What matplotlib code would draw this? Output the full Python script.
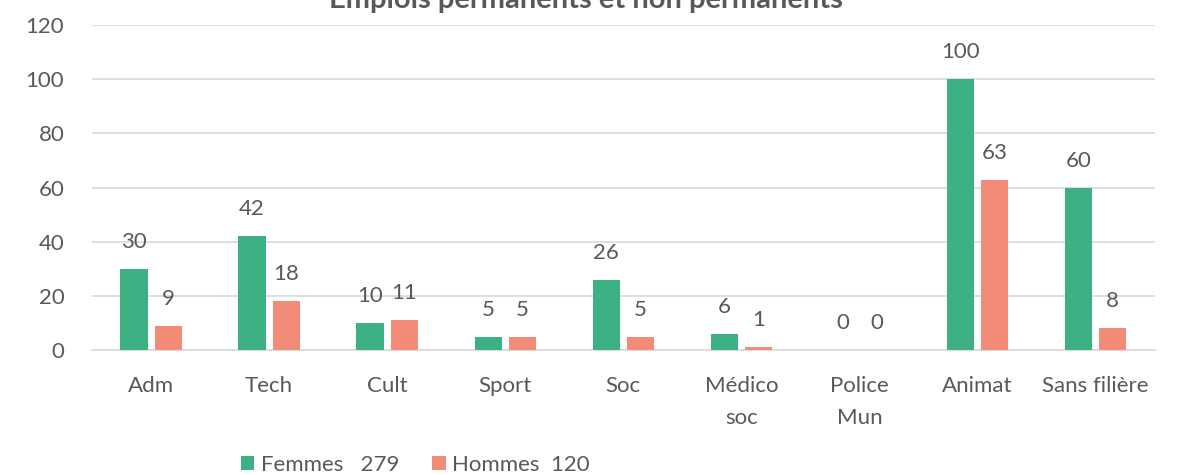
import numpy as np
import matplotlib.pyplot as plt

categories = ['Adm', 'Tech', 'Cult', 'Sport', 'Soc', 'Médico\nsoc', 'Police\nMun', 'Animat', 'Sans filière']
femmes = [30, 42, 10, 5, 26, 6, 0, 100, 60]
hommes = [9, 18, 11, 5, 5, 1, 0, 63, 8]

plt.rcParams['font.family'] = ['Lato', 'DejaVu Sans']
grey = '#595959'
green = '#3EB184'
pink = '#F28B77'

fig = plt.figure(figsize=(11.83, 4.75), dpi=100)
ax = fig.add_axes([0.0778, 0.263, 0.8982, 0.684])

x = np.arange(len(categories))
w = 0.23
off = 0.145
ax.bar(x - off, femmes, w, color=green, label='Femmes   279', zorder=3)
ax.bar(x + off, hommes, w, color=pink, label='Hommes  120', zorder=3)

for xi, f, h in zip(x, femmes, hommes):
    ax.annotate(str(f), (xi - off, f), xytext=(0, 27), textcoords='offset pixels',
                ha='center', va='center', fontsize=16, color=grey)
    ax.annotate(str(h), (xi + off, h), xytext=(0, 27), textcoords='offset pixels',
                ha='center', va='center', fontsize=16, color=grey)

ax.set_xlim(-0.5, len(categories) - 0.5)
ax.set_ylim(0, 120)
ax.set_yticks(range(0, 121, 20))
ax.set_xticks(x)
ax.set_xticklabels(categories, linespacing=1.75)
ax.tick_params(axis='both', length=0, labelsize=16, colors=grey)
ax.tick_params(axis='x', pad=19)
ax.tick_params(axis='y', pad=20)
ax.grid(axis='y', color='#D9D9D9', linewidth=1.2, zorder=0)
for s in ['top', 'right', 'left']:
    ax.spines[s].set_visible(False)
ax.spines['bottom'].set_color('#D9D9D9')
ax.spines['bottom'].set_linewidth(1.2)

fig.text(0.495, 1.0, 'Emplois permanents et non permanents', ha='center', va='center',
         fontsize=21, fontweight='bold', color=grey)

fig.legend(loc='center', bbox_to_anchor=(0.351, 0.022), ncol=2, frameon=False,
           fontsize=16, labelcolor=grey, handlelength=0.6, handleheight=0.6,
           handletextpad=0.3, columnspacing=1.5)

fig.savefig('out.png', dpi=100)
